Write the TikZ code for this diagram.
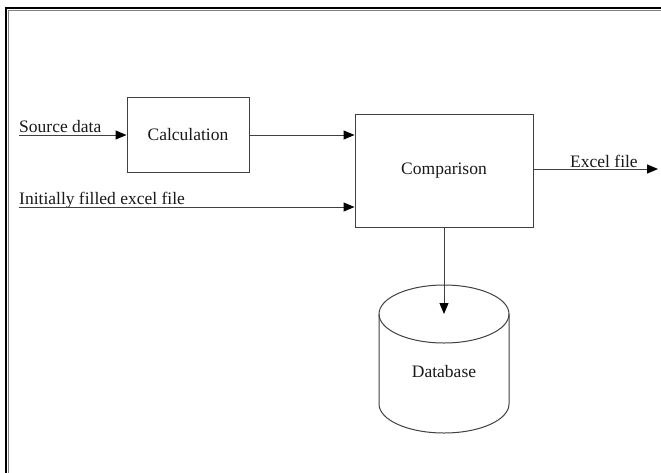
\documentclass[tikz,border=0pt]{standalone}
\usepackage{fontspec}
\setmainfont{Liberation Serif}
\usetikzlibrary{arrows.meta}
\tikzset{
  ln/.style={draw=black!75, line width=1pt},
  txt/.style={font=\fontsize{17.5}{19}\selectfont, text=black!90},
  boxnode/.style={ln, txt, rectangle, inner sep=0pt},
  arr/.style={ln, -{Triangle[length=11pt,width=9pt,color=black]}},
  lbl/.style={txt, inner sep=0pt, anchor=base west},
}
\begin{document}
\begin{tikzpicture}[x=1pt,y=-1pt]
\useasboundingbox (0,0) rectangle (661,472);
\fill[white] (0,0) rectangle (661,472);
% frame
\draw[black, line width=2pt] (6,473) -- (6,8) -- (662,8);
\draw[black!50, line width=0.8pt] (8.5,473) -- (8.5,10.5) -- (662,10.5);
% nodes
\node[boxnode, minimum width=122pt, minimum height=75pt] (calc) at (188,134.5) {Calculation};
\node[boxnode, minimum width=178pt, minimum height=113pt] (comp) at (444,170.5) {Comparison};
\coordinate (src) at (19,135);
\coordinate (ini) at (19,207);
\coordinate (out) at (658,169);
\coordinate (dbtop) at (444,314);
% database cylinder
\draw[ln] (444,314) ellipse [x radius=65pt, y radius=29pt];
\draw[ln] (379,314) -- (379,404) arc[start angle=180, end angle=360, x radius=65pt, y radius=29pt] -- (509,314);
\node[txt] (db) at (444,372) {Database};
% labels
\node[lbl] (lsrc) at (19,132.5) {Source data};
\node[lbl] (lini) at (19,204.5) {Initially filled excel file};
\node[lbl] (lout) at (570,167.5) {Excel file};
% connectors
\draw[arr] (src) -- (calc.west |- src);
\draw[arr] (calc.east |- src) -- (comp.west |- src);
\draw[arr] (ini) -- (comp.west |- ini);
\draw[arr] (comp.east |- out) -- (out);
\draw[arr] (comp.south) -- (dbtop);
\end{tikzpicture}
\end{document}
